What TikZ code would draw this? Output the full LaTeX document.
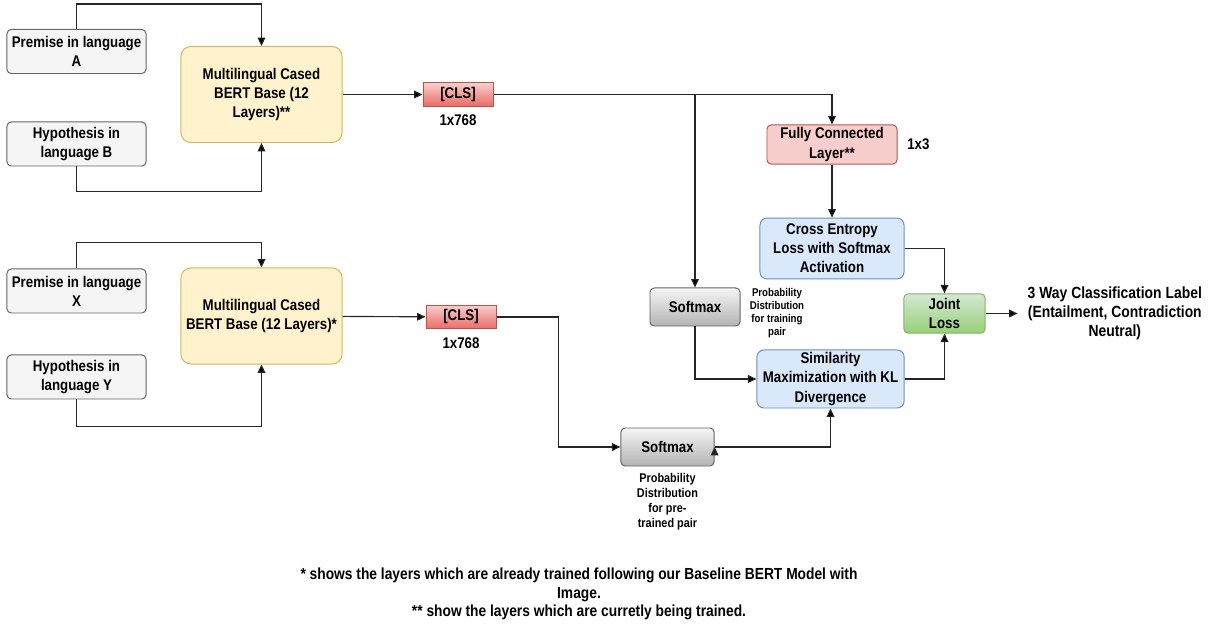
\documentclass[tikz,border=0pt]{standalone}
\usepackage{fontspec}
\setmainfont{Liberation Sans}[FakeStretch=0.86]
\usetikzlibrary{positioning, arrows.meta}

\definecolor{grayline}{HTML}{666666}
\definecolor{grayfill}{HTML}{F5F5F5}
\definecolor{yelline}{HTML}{D6B656}
\definecolor{yelfill}{HTML}{FFF2CC}
\definecolor{redline}{HTML}{B85450}
\definecolor{redfill}{HTML}{F8CECC}
\definecolor{redbot}{HTML}{EA6B66}
\definecolor{blueline}{HTML}{6C8EBF}
\definecolor{bluefill}{HTML}{DAE8FC}
\definecolor{greenline}{HTML}{82B366}
\definecolor{greenfill}{HTML}{D5E8D4}
\definecolor{greenbot}{HTML}{97D077}
\definecolor{graybot}{HTML}{B3B3B3}

\tikzset{
    box/.style={rectangle, rounded corners=3pt, align=center, inner sep=1pt, line width=0.7pt},
    inbox/.style={box, draw=grayline, fill=grayfill, minimum width=3.475cm, minimum height=1.1cm},
    bertbox/.style={box, rounded corners=7pt, draw=yelline, fill=yelfill, minimum width=4.025cm, minimum height=2.4cm},
    clsbox/.style={box, rounded corners=0pt, draw=redline, top color=redfill, bottom color=redbot, minimum width=1.75cm, minimum height=0.58cm},
    fcbox/.style={box, draw=redline, fill=redfill, minimum width=3.25cm, minimum height=0.98cm},
    lossbox/.style={box, rounded corners=5pt, draw=blueline, fill=bluefill},
    smbox/.style={box, draw=grayline, top color=grayfill, bottom color=graybot, minimum height=0.95cm},
    jointbox/.style={box, draw=greenline, top color=greenfill, bottom color=greenbot, minimum width=2.03cm, minimum height=0.98cm},
    note/.style={align=center, inner sep=1pt, font=\bfseries\fontsize{8}{9.3}\selectfont},
    arr/.style={-{Triangle[length=6pt,width=5.5pt]}, draw=black!85, line width=0.8pt},
    hv/.style={to path={-| (\tikztotarget)}},
    vh/.style={to path={|- (\tikztotarget)}},
}

\begin{document}
\begin{tikzpicture}[x=0.025cm, y=-0.025cm, font=\bfseries\fontsize{11}{13.6}\selectfont]

    \useasboundingbox (0,0) rectangle (1217,628);

    % upper pair
    \node[inbox]   (premA) at (76.5,51.5) {Premise in language\\A};
    \node[inbox]   (hypB)  at (76.5,144)  {Hypothesis in\\language B};
    \node[bertbox] (bertA) at (261.5,94.5) {Multilingual Cased\\BERT Base (12\\Layers)**};
    \node[clsbox]  (clsA)  at (458,94.5)  {[CLS]};
    \node          (dimA)  [below=0.08cm of clsA] {1x768};

    % lower pair
    \node[inbox]   (premX) at (76.5,291) {Premise in language\\X};
    \node[inbox]   (hypY)  at (76.5,377) {Hypothesis in\\language Y};
    \node[bertbox] (bertX) at (261.5,316) {Multilingual Cased\\BERT Base (12 Layers)*};
    \node[clsbox]  (clsX)  at (461,317)  {[CLS]};
    \node          (dimX)  [below=0.08cm of clsX] {1x768};

    % heads and losses
    \node[fcbox]   (fc)    at (832,144.5) {Fully Connected\\Layer**};
    \node          (dimfc) [right=0.12cm of fc] {1x3};
    \node[lossbox, minimum width=3.6cm, minimum height=1.52cm] (ce) at (832,248.5)
        {Cross Entropy\\Loss with Softmax\\Activation};
    \node[smbox, minimum width=2.25cm] (smA) at (695,307) {Softmax};
    \node[note]    (pdA)   at (777,313) {Probability\\Distribution\\for training\\pair};
    \node[lossbox, minimum width=3.68cm, minimum height=1.45cm] (kl) at (830.5,379)
        {Similarity\\Maximization with KL\\Divergence};
    \node[jointbox] (joint) at (944.5,313.5) {Joint\\Loss};
    \node[align=center, inner xsep=7pt, font=\bfseries\fontsize{11.5}{13.6}\selectfont] (label) [right=0.8cm of joint]
        {3 Way Classification Label\\(Entailment, Contradiction\\Neutral)};
    \node[smbox, minimum width=2.33cm] (smX) at (667.5,447) {Softmax};
    \node[note, font=\bfseries\fontsize{9}{10.8}\selectfont] (pdX) [below=0.12cm of smX]
        {Probability\\Distribution\\for pre-\\trained pair};

    \path[arr] (premA.north) edge[to path={-- ++(0,-25) -| (\tikztotarget)}] (bertA.north)
               (hypB.south)  edge[to path={-- ++(0,25) -| (\tikztotarget)}]  (bertA.south)
               (premX.north) edge[to path={-- ++(0,-26) -| (\tikztotarget)}] (bertX.north)
               (hypY.south)  edge[to path={-- ++(0,27) -| (\tikztotarget)}]  (bertX.south)
               (bertA)       edge (clsA)
               (bertX)       edge (clsX)
               (clsA.east)   edge[hv] (fc.north)
               (clsA.east -| smA.north) edge (smA.north)
               (fc)          edge (ce)
               (ce.east)     edge[hv] (joint.north)
               (kl.east)     edge[hv] (joint.south)
               (smA.south)   edge[vh] (kl.west)
               (joint)       edge (label)
               (clsX.east)   edge[to path={-- ++(62,0) |- (\tikztotarget)}] (smX.west)
               (smX.east)    edge[hv] (kl.south);

    \node[align=center, font=\bfseries\fontsize{11.4}{13}\selectfont] (foot) at (579,594)
        {* shows the layers which are already trained following our Baseline BERT Model with\\Image.\\** show the layers which are curretly being trained.};

\end{tikzpicture}
\end{document}
